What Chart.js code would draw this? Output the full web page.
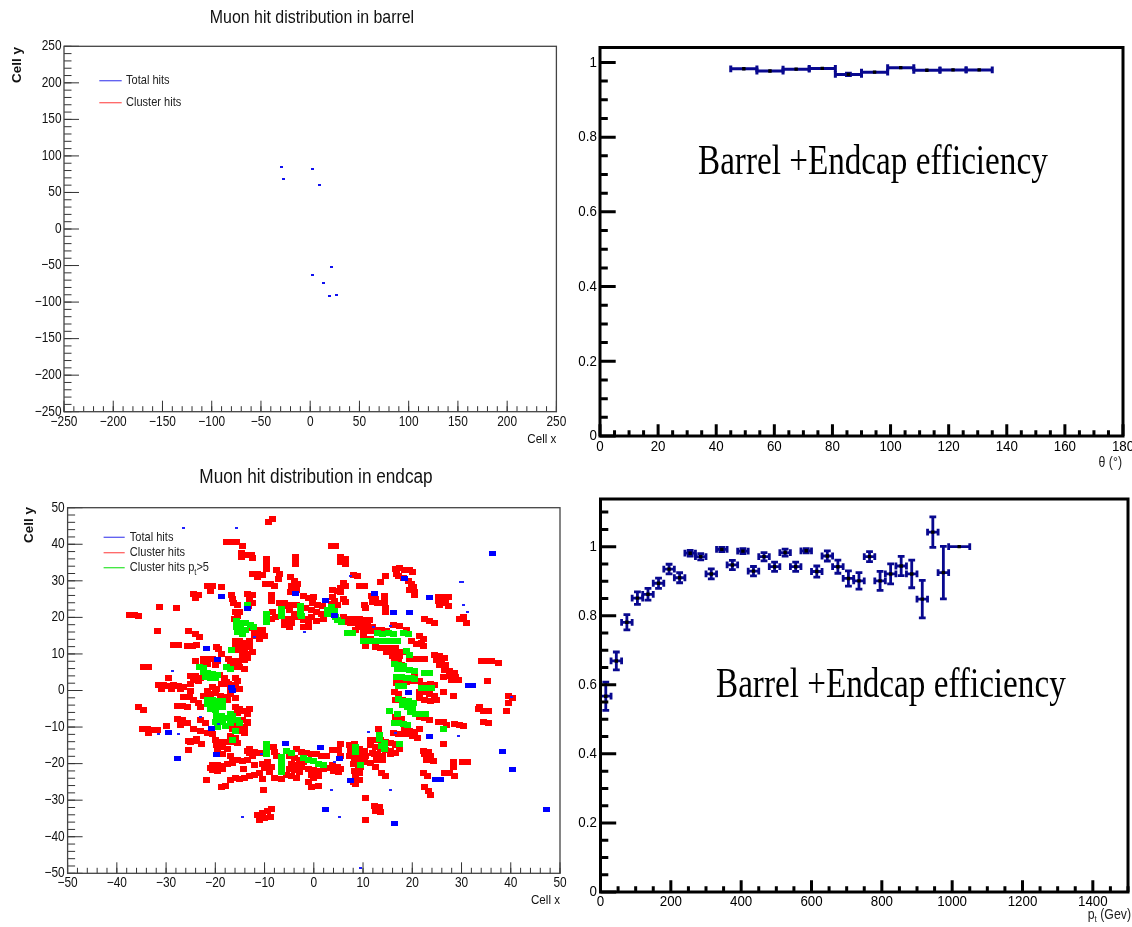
<!DOCTYPE html>
<html>
<head>
<meta charset="utf-8">
<script src="https://cdn.jsdelivr.net/npm/chart.js@4.4.1/dist/chart.umd.min.js"></script>
<style>
  body { margin: 0; background: #fff; }
  #wrap { position: relative; width: 1132px; height: 927px; overflow: hidden; }
  canvas { position: absolute; }
</style>
</head>
<body>
<div id="wrap">
  <canvas id="barrel" width="570" height="460" style="left:0;top:0"></canvas>
  <canvas id="theta" width="566" height="472" style="left:566px;top:0"></canvas>
  <canvas id="endcap" width="570" height="467" style="left:0;top:460px"></canvas>
  <canvas id="pt" width="566" height="455" style="left:566px;top:472px"></canvas>
</div>
<script>
// ---- barrel hits (cell x, cell y) ----
const barrelX = [-29.2, 2.5, -27.2, 9.6, 21.8, 2.5, 13, 20.1, 26.6];
const barrelY = [84.5, 81.8, 68.1, 59.9, -52.2, -63.2, -74.2, -91.9, -90.9];
const barrelTicks = [-250, -200, -150, -100, -50, 0, 50, 100, 150, 200, 250];

// ---- efficiency vs theta ----
const thetaCenters = [49.5, 58.5, 67.5, 76.5, 85.5, 94.5, 103.5, 112.5, 121.5, 130.5];
const thetaEff = [0.983, 0.977, 0.982, 0.984, 0.968, 0.974, 0.986, 0.979, 0.980, 0.980];
const thetaHalfWidth = [4.5, 4.5, 4.5, 4.5, 4.5, 4.5, 4.5, 4.5, 4.5, 4.5];
const thetaErr = [0.002, 0.002, 0.002, 0.002, 0.003, 0.002, 0.002, 0.002, 0.002, 0.002];
const thetaTicks = [0, 20, 40, 60, 80, 100, 120, 140, 160, 180];
const effTicks = [0, 0.2, 0.4, 0.6, 0.8, 1];

// ---- efficiency vs pt ----
const ptCenters = [15, 45, 75, 105, 135, 165, 195, 225, 255, 285, 315, 345, 375, 405, 435, 465, 495,
  525, 555, 585, 615, 645, 675, 705, 735, 765, 795, 825, 855, 885, 915, 945, 975, 1020];
const ptEff = [0.567, 0.669, 0.781, 0.851, 0.862, 0.894, 0.935, 0.910, 0.981, 0.971, 0.921, 0.992,
  0.947, 0.987, 0.929, 0.971, 0.942, 0.983, 0.942, 0.988, 0.928, 0.973, 0.942, 0.908, 0.901, 0.971,
  0.901, 0.921, 0.944, 0.921, 0.848, 1.042, 0.925, 1.0];
const ptHalfWidth = [15, 15, 15, 15, 15, 15, 15, 15, 15, 15, 15, 15, 15, 15, 15, 15, 15,
  15, 15, 15, 15, 15, 15, 15, 15, 15, 15, 15, 15, 15, 15, 15, 15, 30];
const ptErr = [0.041, 0.026, 0.022, 0.018, 0.017, 0.015, 0.014, 0.0145, 0.008, 0.009, 0.0145, 0.006,
  0.0135, 0.007, 0.0135, 0.012, 0.0135, 0.01, 0.0135, 0.006, 0.016, 0.0145, 0.019, 0.022, 0.024,
  0.0145, 0.0275, 0.029, 0.028, 0.04, 0.0545, 0.044, 0.076, 0];
const ptTicks = [0, 200, 400, 600, 800, 1000, 1200, 1400];

// ---- endcap hits (cell x, cell y) ----
const endcapTicks = [-50, -40, -30, -20, -10, 0, 10, 20, 30, 40, 50];
const clusterHits = [
  [-9.3,46],[-8.3,47],[-17.8,40.5],[-16.8,40.5],[-15.8,40.5],[-14.5,39.5],[3.5,39.5],[4.5,39.5],
  [-14.7,37.5],[-13.7,37],[-12.7,37],[-14.7,36.5],[-12.5,36.3],[-9.6,36],[-9.6,35],[-9.6,34],[-9.6,33.2],
  [-3.7,36.5],[-3.7,35.5],[-3.7,34.6],[5.5,36.5],[6.5,36],[5.5,35.2],[6.5,34.5],
  [-7.5,33],[-7,32],[-7.2,30.5],[-12.5,32],[-11.5,32],[-10.5,31.5],[-11.5,31],[-9.8,29],[-8.8,29],[-8,28.5],
  [-4.8,31],[-4,30],[-3.3,29],[-4.5,28.5],[-3.5,27.5],[-4.8,27],[-21.5,28.5],[-20.5,28.5],[-21,27.3],[-18.7,28.3],
  [-24.5,26.5],[-23.5,26],[-24,25.3],[-16.8,26],[-16.5,25],[-16.3,24],[-15.5,23.5],
  [-13.5,26.5],[-12.5,26],[-13,25],[-12.5,24],[-13.2,23],[-8.6,24.6],[-8.6,26.2],[-2,25.8],[-1,25.2],[0,25.5],
  [-7,24],[-6,23.8],[-5.5,23],[-4.5,23.5],[-3.5,23.5],[-1.7,22.5],
  [-0.3,24],[0.8,23.5],[1.8,23],[-0.5,22],[0.5,21.5],[1.5,21],[2,19.5],[-0.5,20],[0.5,19],[-1.3,19.5],
  [-2,19.2],[-1,18.5],[-2,17.5],[-1,17.3],[-6,19.5],[-5,19.5],[-6,18],[-5,17.5],[-4.5,18.5],
  [-8.3,21.5],[-7.8,20],[-8.5,19.5],[-5,22],[-4,21],[-3.5,20],[-4.5,19.5],
  [-16.2,19.5],[-15.5,20.3],[-16,21.5],[-15,21.5],
  [-12.5,17],[-11.5,16.5],[-10.5,16.5],[-12,15.5],[-11,15.3],[-10,15],[-12,15],[-11,14],
  [-16,13.5],[-15,13.5],[-14,13],[-13,13.5],[-16,12.5],[-15,12],[-14,11.5],[-13,12],[-15.5,11],[-14.5,10.5],
  [-13.5,10],[-14.5,9.5],[-13.5,9],[-14,8.3],[-12.5,10.5],[-19.8,12],[-18.8,10],
  [-22.5,8.7],[-21.5,8.5],[-20.5,8.5],[-19.5,8],[-22.5,7.5],[-21.5,7.2],[-20,7],
  [-17.3,8.5],[-16.3,8.2],[-15.3,8],[-17,7],[-16,6.5],[-15,6.3],[-14,6],
  [-19.2,4.2],[-18.2,3.5],[-17.8,2.3],[-18.8,1.8],[-17.3,1.8],[-17,0.3],[-16,3.5],[-15.5,2.5],[-16,1.5],[-15,0.5],
  [-20.5,1],[-21.5,0],[-19.8,0.3],[-25,0],[-26.5,-1.8],[-22.5,-1.5],
  [-25,4],[-24,4],[-23,3.5],[-24.5,2.8],[-23.5,2.5],[-25,1.8],[-34.6,6.5],[-33.6,6.5],
  [-37.5,20.6],[-36.5,20.6],[-35.5,20.3],[-31.8,16.3],[-27.9,22.5],[-31.3,22.8],[-25.5,16.3],[-24,15.5],[-23.3,14.6],
  [-28.5,12.5],[-27.5,12.5],[-25.7,12.2],[-24.7,12.2],[-23.8,12.5],[-19.4,11.4],
  [-31.5,1.5],[-30.5,1.5],[-29.5,1.3],[-28.5,1.5],[-27.5,1.3],[-26.5,1],[-31,0.5],[-29,0.5],[-27,0.3],
  [-29.5,3.5],[-24,8.2],
  [16.5,33.3],[17.5,33.5],[18.5,33],[19.5,33],[20,32.3],[16.8,32],[17.3,31.3],[18.2,30.8],[19.2,30],[19.8,29],[20.2,28.3],
  [19.5,27.5],[20.5,27],[20.5,26.2],[8,31.5],[8.8,31.3],[14.5,31.3],[6,29.5],[6.5,28.5],[5.5,28],
  [9.3,28.5],[10.3,28.5],[13.5,29.6],[3.8,27.5],[4.8,27.3],[5.5,27],[11.8,25.8],[12.5,25],[12,24.2],[13,24],
  [14.4,25.8],[14.4,24.8],[14.4,23.8],[14.5,22.5],[14.5,21.5],
  [25.3,25.6],[26.3,25.6],[27.3,25.6],[25.3,24.5],[26.8,24],[25.5,23.3],[27.3,23],
  [10.2,23.5],[10.5,22.5],[6,25],[6.5,24.3],[3.8,25.5],[4.3,24.5],[3.6,23.6],[4.8,23.3],[3.3,22],
  [6,20],[7,19.5],[6.2,18.7],[7.5,18.5],
  [8.2,19.6],[9.2,19.6],[10.2,19.4],[11.3,19.4],[8.5,18.5],[9.8,18.2],[11,18.3],[12,17.5],[9,17.5],[10.5,17.2],
  [8.5,16.5],[11.5,16.3],[10,15.8],[16.2,17.8],[17.5,17.6],[12.8,16.5],[13.8,16.5],[14.8,16.3],[18.8,16.5],
  [21.5,14.8],[22.3,14],[21.8,13],[22.3,12.3],[19.8,13.5],[20.8,12.8],[10,14.3],[11.5,14.2],[10.4,12.3],
  [12.5,11.8],[13.5,11.5],[14.5,11.5],[15.5,11.5],[16.5,11.6],[14.8,10.5],[15.8,10.5],[17,10.2],[18,10.5],[16,9.5],[17.5,9.4],
  [19.5,8.5],[20.5,8.6],[21.5,8.6],[22.5,8.5],[16.3,8.7],[17.3,8.5],[16.5,7.3],[17.8,7],
  [24.5,9.6],[25.5,9.5],[26.5,9],[25,8.3],[26,8],[26.8,7],[25.5,7],
  [26.5,5.5],[27.5,5.3],[28.5,4.8],[28.8,3.8],[29.3,3],[28,2.8],[27.5,4],[26.3,3.6],[20.5,4.6],
  [16.8,2],[17.8,2],[18.8,2.3],[19.8,2.5],[20.8,2.5],[21.5,2.5],[21.8,1.6],[22.8,1.5],[23.8,1.8],[24.5,1.5],
  [35.2,2.7],[34,8],[35,8],[36,8],[37.5,7.5],[22.5,19.5],[23.5,19],[24.5,18.5],[29.5,19.5],[30.5,20],[31,18.5],
  [16.3,-0.5],[17.3,-1],[16.5,-2.5],[18,-2.5],
  [21.5,-0.5],[22.5,-0.5],[23.5,-1],[24.5,-1.5],[21.5,-2],[22.5,-2.5],[23.8,-3],[25,-2.5],
  [21.5,-7.2],[22.5,-7.5],[23.5,-8],[25.3,-8.5],[26.3,-8.7],[27,-9.5],[28.5,-9.2],[29.5,-9.5],[30.5,-9.8],
  [28.4,-1.4],[26.3,-0.3],[33.5,-5],[34.5,-5.5],[35.5,-5.5],[34.5,-8.5],[35.5,-9],
  [39.2,-5.5],[39.5,-1.5],[40.3,-2],[39.5,-3.5],[33.6,-4.6],[16.5,-7.3],[17.8,-7.8],
  [18.5,-10.5],[19.5,-11],[20.5,-11.3],[21.5,-10.5],[19,-12],[20,-12.5],[18.3,-11.8],[21,-13],
  [26.3,-14.6],[13.1,-10.5],[16.2,-11.5],[17.3,-12],
  [11.5,-13.5],[12.5,-13.5],[13.5,-13.5],[14.5,-14],[15.5,-14.3],[16.5,-14.5],[11.5,-15],[12.5,-15.5],[13.5,-16],
  [14.5,-16.3],[15.5,-16.5],[12,-17],[13,-17.5],[14,-18],[16.5,-15],[17.5,-16],[16.5,-17],[15.5,-17.5],
  [12.3,-17.5],[13.3,-18],[12.8,-19],[14,-19],
  [7.2,-15],[8.2,-15.5],[9.2,-16],[10.2,-16.5],[7.5,-16.5],[8.5,-17],[9.5,-17.5],[10.5,-18],[7.2,-18],[8.2,-18.5],
  [9.2,-19],[10.2,-19.5],[8,-20],[9,-20.5],[9.5,-21],[8.2,-14.5],[5.5,-14.6],[5,-16.3],[5.5,-17.8],[3.8,-16.4],
  [3.8,-20.3],[4.8,-20.8],[5.5,-21.5],[4,-22],[5,-22.3],[8.2,-22],[9.2,-22.5],[8.5,-23.5],[9.2,-24.5],[8,-25],
  [11.5,-19.8],[12.5,-20.8],[13.8,-22.5],[14.6,-23.5],[8.4,-25.5],
  [10.4,-29.5],[12.3,-31.5],[13.3,-31.8],[12.5,-33],[13.5,-33.2],[10.4,-35.5],
  [22.3,-16.5],[23.3,-16.8],[22.5,-17.5],[23.8,-18],[22.8,-19],[24.3,-19.3],
  [22.3,-22.5],[23,-23.5],[22.5,-26.5],[23.3,-27.5],[23.8,-28.5],
  [28.3,-19.5],[28.3,-20.8],[30.3,-19.6],[31.3,-19.6],[26.5,-22.5],[27.5,-22.5],[28.5,-23.5],
  [-8.2,-15.5],[-8,-16.8],[-7.5,-18],
  [-5,-18],[-4,-18.5],[-3,-19],[-2,-19.5],[-4.5,-20],[-3.5,-20.5],[-2.5,-21],[-4,-21.8],[-3,-22.3],[-5,-21.5],
  [-3.5,-16],[-2.5,-16.8],[-1.5,-17],[-0.5,-17.3],[0.5,-17.5],[1.5,-18],[2.5,-17.8],
  [-1,-21.5],[0,-21.8],[1,-22],[2,-21.5],[3,-21.2],[-0.5,-23],[1,-23.3],[0,-24],[-1,-25],[-0.5,-26.5],[1,-26],
  [-5.5,-23],[-4.5,-23.5],[-3.5,-24],[-8,-23.8],[-6.5,-24.3],
  [-10,-21.3],[-9,-22.3],[-8.5,-21],[-9.5,-19.5],[-10.5,-20],[-10.3,-27.3],
  [-11.5,-34],[-10.5,-33.5],[-9.5,-33],[-8.5,-32.5],[-10,-35],[-11,-35.5],[-8.8,-34.5],
  [-21.7,-24.6],[-18.8,-26.5],[-18,-26],
  [-17,-24.5],[-16,-24],[-15,-24.3],[-14,-23.8],[-13,-23.5],[-12,-23],[-11,-22.7],[-10.5,-24.2],
  [-20.5,-20.3],[-19.5,-20.3],[-18.5,-20.6],[-17.5,-20],[-16.5,-19.8],[-20.5,-21.8],[-19.5,-22],[-18.5,-21.5],[-21,-21.2],
  [-16.5,-19],[-15.5,-19],[-14.5,-19.2],[-13.5,-19],[-14.3,-21.5],
  [-13,-17],[-12.5,-18],[-12,-20.5],[-13,-16],[-13.5,-16.5],[-12,-16.8],[-11,-17],[-17,-17.8],
  [-20,-13.5],[-19,-14],[-18,-14],[-19.8,-15],[-18.5,-15.5],[-17.5,-16],[-19.5,-16.5],[-18.5,-17.3],
  [-25,-14],[-22.8,-14.5],[-25.5,-13.8],[-24.3,-13.8],[-23.8,-13.2],[-25.5,-16.4],
  [-24.5,-10.5],[-23,-11],[-21.5,-11.5],[-20.5,-12],[-17,-12.5],[-16,-13],[-17,-14],[-15.5,-14.3],
  [-17,-8.5],[-16,-9],[-15,-9.5],[-14,-10],[-16.5,-10.5],[-15,-11],[-14,-11.5],[-13.5,-8.5],[-14.5,-8],[-13.5,-9],
  [-21,-1],[-20,-0.8],[-19,-1.5],[-18,-1.7],[-24.5,-2.5],[-23.5,-3.5],[-23,-4.5],[-25.2,-1.8],
  [-17,-1],[-16,-2],[-17.5,-2.5],[-16,-4.5],[-15,-5],[-14,-5.5],[-13,-5],[-15.5,-6.2],[-13.5,-6.5],
  [-23,-8],[-22,-9],[-35.5,-4.6],[-34.5,-5.3],[-27.7,-4.2],[-26.7,-4.3],[-25.7,-4.5],
  [-27.7,-7.7],[-26.7,-8.2],[-25.7,-9],[-27,-9.5],[-30,-9.6],
  [-34.8,-10.5],[-33.8,-10.5],[-32.8,-10.8],[-31.8,-10.8],[-33.5,-11.5]
];
const clusterHitsPt5 = [
  [-13.5,23.5],[-6.6,22.3],[-6.6,21.3],[-6.6,20.3],[-9.6,20.8],[-9.6,19.8],[-9.6,18.8],
  [-2.7,23],[-2.7,22],[-2.7,21],[-2.5,20.3],[2.8,22],[2.8,21],
  [-15.8,19],[-14.8,18.5],[-13.8,18.5],[-15.8,17.5],[-14.8,17],[-13.8,16.5],[-15.5,16],[-14.5,15.5],
  [-12.8,18],[-12.2,17.5],[-16.8,11],[-23.3,6.5],[-22.3,6.2],
  [-22.5,5],[-21.5,4.8],[-20.5,4.5],[-19.5,4.2],[-22,3.8],[-21,3.5],[-20,3.3],[-17.8,6.5],[-17,5.8],
  [3.6,22.8],[4.3,21.8],[3.6,21],[4.5,20],[4.8,19.2],[5.7,18.7],
  [6.8,15.8],[7.8,15.6],[13,15.6],[14,15.4],[15.2,15.6],[16.2,15.5],[18.2,15.6],[19.2,15.4],
  [10,13.5],[11,13.5],[12,13.5],[13,13.5],[14,13.5],[15,13.5],[16,13.5],[17,13.5],
  [18.8,10.7],[19.5,9.8],[16.3,7.2],[17.3,7],[18.3,6.8],[17,6],[18,5.8],[19.5,5.5],[20.5,5.2],
  [16.8,3.6],[17.8,3.6],[18.8,3.3],[19.8,3.3],[20.5,3.1],[22.5,4.8],[23.5,4.8],
  [17.2,1.2],[18.3,1.1],[21.8,0.8],[23,0.7],[24,0.7],
  [17.3,-2.3],[18.3,-2.8],[19.3,-3],[20.3,-3.3],[18,-4],[19,-4.5],[20,-4.8],
  [19.7,-6],[20.7,-6.3],[21.7,-6.5],[22.7,-6.5],[15.4,-5.5],[17,-6.5],
  [16.3,-8.8],[17.3,-9],[18.3,-9.2],[19,-9.5],[26.3,-10.5],
  [13.3,-12.3],[13.3,-13.3],[14.3,-14.3],[13.8,-15.3],[14.3,-16],[17.5,-14.5],
  [8.4,-15.5],[8.4,-16.7],[9.4,-20.5],
  [-9.6,-14.5],[-9.6,-15.5],[-9.6,-16.5],[-9.6,-17.5],
  [-6.5,-18.3],[-6.5,-19.3],[-6.5,-20.3],[-6.5,-21.3],[-6.5,-22.3],[-5.5,-16.5],[-4.5,-17],
  [-2,-18.5],[-1,-19],[0,-19.3],[1,-20],[2,-20.5],[-16,-11],[-16.5,-13.5],
  [-19.8,-7],[-18.8,-7],[-17.5,-7.5],[-16.5,-7.5],[-15.5,-8],[-20,-8.5],[-18.5,-8.5],[-17,-9],[-15,-8.8],
  [-19.5,-10],[-18,-9.8],
  [-21.5,-2.5],[-20.5,-2.5],[-19.5,-3],[-18.5,-3],[-21.5,-3.8],[-20.5,-4],[-19.5,-4.5],[-18.5,-4.5],
  [-21,-5],[-20,-5.3],[-17,-6.3],[-16.5,-7]
];
const totalHits = [
  [-3.7,26.5],[-13.5,22.5],[-18.8,25.8],[-21.7,11.6],[-19.6,8.4],[-16.7,0.7],[4.3,20.6],
  [36.3,37.4],[18.5,30.5],[12.3,26.5],[23.4,25.5],[19.4,21.4],[16.2,21.4],[2.4,24.6],
  [31.5,1.4],[32.3,1.4],[19.2,-0.5],[23.4,-12.5],[38.4,-16.6],[40.4,-21.6],[47.3,-32.5],
  [24.8,-24.4],[25.8,-24.4],[16.4,-36.5],[2.4,-32.5],[7.4,-24.5],[5.3,-18.5],[1.4,-15.5],[-5.7,-14.6],
  [-19.7,-17.4],[-20.7,-10.5],[-27.6,-18.5],[-29.5,-11.6],[-16.5,0]
];
const totalHitsSmall = [
  [-26.5,44.4],[-15.7,44.4],[7.5,31.3],[29.7,29.6],[30.3,29.6],[30.4,23.4],[31.2,21.6],[15.5,17.6],
  [12.1,17.3],[-1.8,16],[-28.7,5.3],[-31.6,-11.9],[-27.5,-11.9],[-23.1,-7.3],[-19.4,-9.1],[-14.5,-34.5],
  [5.3,-34.5],[9.4,-48.5],[3.6,-27.3],[15.5,-27.3],[29.4,-12.5],[11.1,-11.4],[16.5,-11.7],[4.3,-19.6],
  [-10.6,-17.3],[40.2,-1.8],[-12,14.5]
];

// ---- helpers ----
function cell(color, w, h) {
  const c = document.createElement("canvas");
  c.width = w;
  c.height = h;
  const g = c.getContext("2d");
  g.fillStyle = color;
  g.fillRect(0, 0, w, h);
  return c;
}

function drawText(ctx, s, x, y, font, align, sx, color, baseline) {
  ctx.save();
  ctx.font = font;
  ctx.fillStyle = color || "#111";
  ctx.textAlign = align || "left";
  ctx.textBaseline = baseline || "middle";
  ctx.translate(x, y);
  ctx.scale(sx || 1, 1);
  ctx.fillText(s, 0, 0);
  ctx.restore();
}

// text made of pieces (for subscripts like p_t)
function drawSegs(ctx, segs, x, y, align, sx, color) {
  let total = 0;
  segs.forEach((sg) => {
    ctx.font = sg.font;
    sg.w = ctx.measureText(sg.s).width * sx;
    total += sg.w;
  });
  let cx = align === "right" ? x - total : x;
  segs.forEach((sg) => {
    drawText(ctx, sg.s, cx, y + (sg.dy || 0), sg.font, "left", sx, color);
    cx += sg.w;
  });
}

function fmt(v) {
  const r = Math.round(v * 1000) / 1000;
  return r < 0 ? "\u2212" + Math.abs(r) : String(r);
}

function steps(min, max, step) {
  const out = [];
  const n = Math.floor((max - min) / step + 1e-6);
  for (let i = 0; i <= n; i++) out.push(min + i * step);
  return out;
}

// ROOT-like frame with ticks pointing into the pad
const rootAxes = {
  id: "rootAxes",
  afterDatasetsDraw(chart, args, o) {
    const { ctx, chartArea: a, scales: { x, y } } = chart;
    ctx.save();
    ctx.strokeStyle = o.tickColor;
    ctx.lineWidth = o.tickWidth;
    ctx.lineCap = "butt";
    ctx.beginPath();
    steps(x.min, x.max, o.xMinor).forEach((v) => {
      const px = x.getPixelForValue(v);
      ctx.moveTo(px, a.bottom);
      ctx.lineTo(px, a.bottom - o.xLen[1]);
    });
    o.xMajor.forEach((v) => {
      const px = x.getPixelForValue(v);
      ctx.moveTo(px, a.bottom);
      ctx.lineTo(px, a.bottom - o.xLen[0]);
    });
    steps(y.min, y.max, o.yMinor).forEach((v) => {
      const py = y.getPixelForValue(v);
      ctx.moveTo(a.left, py);
      ctx.lineTo(a.left + o.yLen[1], py);
    });
    o.yMajor.forEach((v) => {
      const py = y.getPixelForValue(v);
      ctx.moveTo(a.left, py);
      ctx.lineTo(a.left + o.yLen[0], py);
    });
    ctx.stroke();

    ctx.strokeStyle = o.frameColor;
    ctx.lineWidth = o.frameWidth;
    ctx.strokeRect(a.left, a.top, a.right - a.left, a.bottom - a.top);

    o.xMajor.forEach((v) => {
      drawText(ctx, fmt(v), x.getPixelForValue(v), a.bottom + o.xGap, o.font, "center", o.sx, o.labelColor);
    });
    o.yMajor.forEach((v) => {
      drawText(ctx, fmt(v), a.left - o.yGap, y.getPixelForValue(v), o.font, "right", o.sx, o.labelColor);
    });
    ctx.restore();
  },
};

// titles, axis titles, legend boxes, annotations
const decor = {
  id: "decor",
  afterDraw(chart, args, o) {
    const ctx = chart.ctx;
    (o.lines || []).forEach((l) => {
      ctx.save();
      ctx.strokeStyle = l.color;
      ctx.lineWidth = 1.3;
      ctx.beginPath();
      ctx.moveTo(l.x1, l.y);
      ctx.lineTo(l.x2, l.y);
      ctx.stroke();
      ctx.restore();
    });
    (o.texts || []).forEach((t) => {
      if (t.rot) {
        ctx.save();
        ctx.translate(t.x, t.y);
        ctx.rotate(-Math.PI / 2);
        drawText(ctx, t.s, 0, 0, t.font, "center", 1, t.color, "alphabetic");
        ctx.restore();
      } else if (t.segs) {
        drawSegs(ctx, t.segs, t.x, t.y, t.align, t.sx || 1, t.color);
      } else {
        drawText(ctx, t.s, t.x, t.y, t.font, t.align, t.sx, t.color, t.baseline);
      }
    });
  },
};

// x/y error bars with end caps, drawn under the markers
const errorBars = {
  id: "errorBars",
  beforeDatasetsDraw(chart, args, o) {
    const { ctx, scales: { x, y } } = chart;
    ctx.save();
    ctx.strokeStyle = o.color;
    ctx.lineWidth = o.width;
    chart.data.datasets.forEach((ds) => {
      if (!ds.xErr) return;
      ds.data.forEach((p, i) => {
        const px = x.getPixelForValue(p.x);
        const py = y.getPixelForValue(p.y);
        const x1 = x.getPixelForValue(p.x - ds.xErr[i]);
        const x2 = x.getPixelForValue(p.x + ds.xErr[i]);
        const y1 = y.getPixelForValue(p.y - ds.yErr[i]);
        const y2 = y.getPixelForValue(p.y + ds.yErr[i]);
        const c = o.cap;
        ctx.beginPath();
        ctx.moveTo(x1, py); ctx.lineTo(x2, py);
        ctx.moveTo(x1, py - c); ctx.lineTo(x1, py + c);
        ctx.moveTo(x2, py - c); ctx.lineTo(x2, py + c);
        if (Math.abs(y2 - y1) > 1.5) {
          ctx.moveTo(px, y1); ctx.lineTo(px, y2);
          ctx.moveTo(px - c, y1); ctx.lineTo(px + c, y1);
          ctx.moveTo(px - c, y2); ctx.lineTo(px + c, y2);
        }
        ctx.stroke();
      });
    });
    ctx.restore();
  },
};

function toPoints(pairs) {
  return pairs.map((p) => ({ x: p[0], y: p[1] }));
}

function options(pad, xr, yr, axes, extra) {
  return {
    responsive: false,
    animation: false,
    events: [],
    layout: { padding: pad },
    scales: {
      x: { type: "linear", min: xr[0], max: xr[1], display: false },
      y: { type: "linear", min: yr[0], max: yr[1], display: false },
    },
    plugins: Object.assign(
      { legend: { display: false }, tooltip: { enabled: false }, rootAxes: axes },
      extra
    ),
  };
}

const SANS = '"Liberation Sans", Arial, sans-serif';
const SERIF = '"Liberation Serif", "Times New Roman", serif';
const BLUE_LEG = "#5a5af0";
const RED_LEG = "#ff6464";
const GREEN_LEG = "#3ce63c";

const thinAxes = {
  tickColor: "#333", tickWidth: 1, frameColor: "#444", frameWidth: 1.3,
  font: "14px " + SANS, sx: 0.85, labelColor: "#111",
};
const boldAxes = {
  tickColor: "#000", tickWidth: 3, frameColor: "#000", frameWidth: 3,
  font: "15.5px " + SANS, sx: 0.86, labelColor: "#000",
};

// ---- panel 1: barrel hits ----
new Chart(document.getElementById("barrel"), {
  type: "scatter",
  data: {
    datasets: [{
      data: barrelX.map((v, i) => ({ x: v, y: barrelY[i] })),
      pointStyle: cell("#1010f0", 3, 2),
      pointRadius: 1.5,
    }],
  },
  options: options(
    { left: 64, top: 46.3, right: 13.6, bottom: 48.3 },
    [-250, 250], [-250, 250],
    Object.assign({}, thinAxes, {
      xMajor: barrelTicks, xMinor: 10, yMajor: barrelTicks, yMinor: 10,
      xLen: [11, 5.5], yLen: [15, 7.5], xGap: 10, yGap: 2.5,
    }),
    {
      decor: {
        lines: [
          { x1: 99.3, x2: 121.7, y: 80.7, color: BLUE_LEG },
          { x1: 99.3, x2: 121.7, y: 102.7, color: RED_LEG },
        ],
        texts: [
          { s: "Muon hit distribution in barrel", x: 312, y: 23.3, font: "18.5px " + SANS, align: "center", sx: 0.86, baseline: "alphabetic" },
          { s: "Cell y", x: 21, y: 65, font: "bold 13.5px " + SANS, rot: true },
          { s: "Cell x", x: 556.4, y: 443.3, font: "13.5px " + SANS, align: "right", sx: 0.86, baseline: "alphabetic" },
          { s: "Total hits", x: 126, y: 80.7, font: "13px " + SANS, sx: 0.85, color: "#222" },
          { s: "Cluster hits", x: 126, y: 102.7, font: "13px " + SANS, sx: 0.85, color: "#222" },
        ],
      },
    }
  ),
  plugins: [rootAxes, decor],
});

// ---- panel 2: efficiency vs theta ----
new Chart(document.getElementById("theta"), {
  type: "scatter",
  data: {
    datasets: [{
      data: thetaCenters.map((v, i) => ({ x: v, y: thetaEff[i] })),
      xErr: thetaHalfWidth,
      yErr: thetaErr,
      pointStyle: "rect",
      pointRadius: 2.4,
      backgroundColor: "#000",
      borderWidth: 0,
    }],
  },
  options: options(
    { left: 34, top: 47.5, right: 9, bottom: 36 },
    [0, 180], [0, 1.04],
    Object.assign({}, boldAxes, {
      xMajor: thetaTicks, xMinor: 5, yMajor: effTicks, yMinor: 0.05,
      xLen: [11.7, 5.8], yLen: [15.7, 7.8], xGap: 10.7, yGap: 3.1,
    }),
    {
      errorBars: { color: "#08088f", width: 3, cap: 3.4 },
      decor: {
        texts: [
          { s: "Barrel +Endcap efficiency", x: 132, y: 174, font: "42px " + SERIF, align: "left", sx: 0.79, color: "#000", baseline: "alphabetic" },
          { s: "\u03b8 (\u00b0)", x: 556, y: 463, font: "14px " + SANS, align: "right", sx: 0.88, color: "#222" },
        ],
      },
    }
  ),
  plugins: [errorBars, rootAxes, decor],
});

// ---- panel 3: endcap hits ----
new Chart(document.getElementById("endcap"), {
  type: "scatter",
  data: {
    datasets: [
      { label: "Total hits", data: toPoints(totalHits), pointStyle: cell("#0000ff", 7, 5), pointRadius: 2 },
      { label: "Total hits", data: toPoints(totalHitsSmall), pointStyle: cell("#2020ff", 3, 2), pointRadius: 1.5 },
      { label: "Cluster hits pt>5", data: toPoints(clusterHitsPt5), pointStyle: cell("#00f000", 7, 6), pointRadius: 2 },
      { label: "Cluster hits", data: toPoints(clusterHits), pointStyle: cell("#ff0000", 7, 6), pointRadius: 2 },
    ],
  },
  options: options(
    { left: 67.6, top: 47.7, right: 10, bottom: 53.7 },
    [-50, 50], [-50, 50],
    Object.assign({}, thinAxes, {
      xMajor: endcapTicks, xMinor: 2, yMajor: endcapTicks, yMinor: 2,
      xLen: [11, 5.5], yLen: [15, 7.5], xGap: 10, yGap: 2.9,
    }),
    {
      decor: {
        lines: [
          { x1: 103.6, x2: 124.7, y: 77.3, color: BLUE_LEG },
          { x1: 103.6, x2: 124.7, y: 92.7, color: RED_LEG },
          { x1: 103.6, x2: 124.7, y: 107.7, color: GREEN_LEG },
        ],
        texts: [
          { s: "Muon hit distribution in endcap", x: 316, y: 22.7, font: "20px " + SANS, align: "center", sx: 0.86, baseline: "alphabetic" },
          { s: "Cell y", x: 32.5, y: 65, font: "bold 13.5px " + SANS, rot: true },
          { s: "Cell x", x: 560, y: 444, font: "13.5px " + SANS, align: "right", sx: 0.86, baseline: "alphabetic" },
          { s: "Total hits", x: 129.8, y: 77.3, font: "13px " + SANS, sx: 0.85, color: "#222" },
          { s: "Cluster hits", x: 129.8, y: 92.7, font: "13px " + SANS, sx: 0.85, color: "#222" },
          {
            segs: [
              { s: "Cluster hits p", font: "13px " + SANS },
              { s: "t", font: "9px " + SANS, dy: 5 },
              { s: ">5", font: "13px " + SANS },
            ],
            x: 129.8, y: 107.7, align: "left", sx: 0.85, color: "#222",
          },
        ],
      },
    }
  ),
  plugins: [rootAxes, decor],
});

// ---- panel 4: efficiency vs pt ----
new Chart(document.getElementById("pt"), {
  type: "scatter",
  data: {
    datasets: [{
      data: ptCenters.map((v, i) => ({ x: v, y: ptEff[i] })),
      xErr: ptHalfWidth,
      yErr: ptErr,
      pointStyle: "rect",
      pointRadius: 2.4,
      backgroundColor: "#000",
      borderWidth: 0,
    }],
  },
  options: options(
    { left: 34.5, top: 27, right: 4, bottom: 35 },
    [0, 1500], [0, 1.138],
    Object.assign({}, boldAxes, {
      xMajor: ptTicks, xMinor: 50, yMajor: effTicks, yMinor: 0.05,
      xLen: [11.7, 5.8], yLen: [15.7, 7.8], xGap: 9.7, yGap: 3.6,
    }),
    {
      errorBars: { color: "#08088f", width: 2.8, cap: 3.4 },
      decor: {
        texts: [
          { s: "Barrel +Endcap efficiency", x: 150, y: 225, font: "42px " + SERIF, align: "left", sx: 0.79, color: "#000", baseline: "alphabetic" },
          {
            segs: [
              { s: "p", font: "14px " + SANS },
              { s: "t", font: "9px " + SANS, dy: 5 },
              { s: " (Gev)", font: "14px " + SANS },
            ],
            x: 565, y: 443, align: "right", sx: 0.88, color: "#222",
          },
        ],
      },
    }
  ),
  plugins: [errorBars, rootAxes, decor],
});
</script>
</body>
</html>
